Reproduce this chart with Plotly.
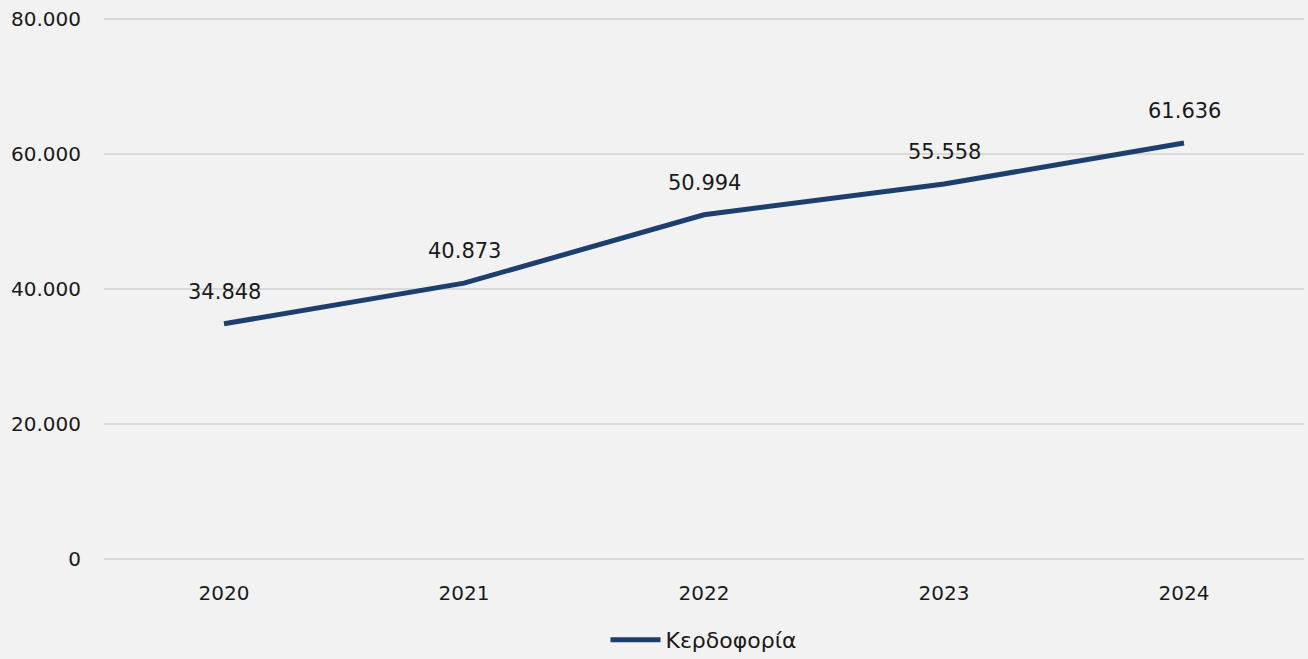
import plotly.graph_objects as go

years = ["2020", "2021", "2022", "2023", "2024"]
profit = [34848, 40873, 50994, 55558, 61636]
y_ticks = [0, 20000, 40000, 60000, 80000]
series_name = "Κερδοφορία"

def fmt(v):
    return f"{v:,}".replace(",", ".")

fig = go.Figure()
fig.add_trace(go.Scatter(
    x=years, y=profit, mode="lines", name=series_name,
    line=dict(color="#1d3f6e", width=5),
    hoverinfo="skip",
))

for i, v in enumerate(profit):
    fig.add_annotation(x=i, y=v, xref="x", yref="y", text=fmt(v), showarrow=False,
                       yshift=32, font=dict(size=21, color="#1a1a1a"))

pad = 300
fig.update_layout(
    width=1308, height=659,
    paper_bgcolor="#f2f2f2", plot_bgcolor="#f2f2f2",
    margin=dict(l=104, r=4, t=17, b=98, autoexpand=False),
    font=dict(family="DejaVu Sans", size=20, color="#1a1a1a"),
    showlegend=True,
    legend=dict(orientation="h", x=0.5, xanchor="center", yref="container",
                y=0.029, yanchor="middle", itemwidth=50,
                font=dict(size=22), bgcolor="rgba(0,0,0,0)"),
    xaxis=dict(type="category", range=[-0.5, 4.5], showgrid=False, zeroline=False,
               showline=False, ticks="", tickfont=dict(size=20), ticklabelstandoff=18),
    yaxis=dict(range=[-pad, 80000 + pad], tickvals=y_ticks, ticktext=[fmt(t) for t in y_ticks],
               showgrid=True, gridcolor="#d9d9d9", gridwidth=2, zeroline=False,
               showline=False, ticks="", tickfont=dict(size=20), ticklabelstandoff=22),
)

fig.write_html("out.html", config={"displayModeBar": False},
               post_script="document.body.style.margin='0';document.body.style.overflow='hidden';")
